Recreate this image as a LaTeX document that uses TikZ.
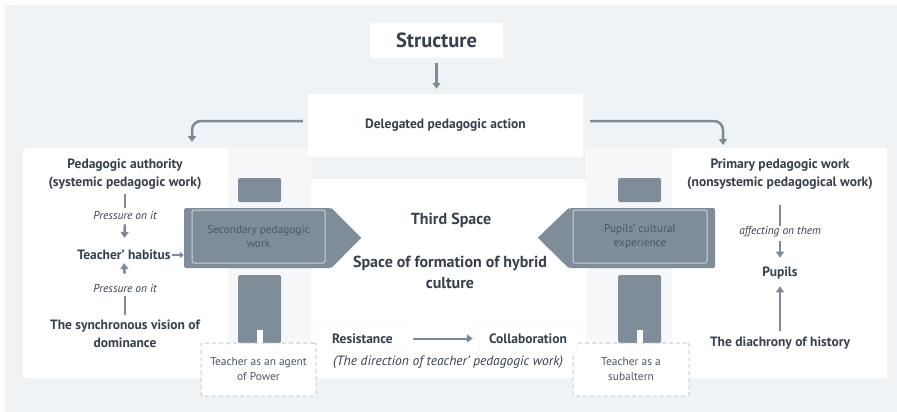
\documentclass[tikz,border=0pt]{standalone}
\usepackage{fontspec}
\setmainfont{PT Sans}
\usetikzlibrary{positioning,arrows.meta}

\definecolor{bgcol}{HTML}{EFF3F6}
\definecolor{colcol}{HTML}{F5F7F9}
\definecolor{inkcol}{HTML}{36414D}
\definecolor{arrowcol}{HTML}{7D8B98}
\definecolor{signcol}{HTML}{7F8D9A}
\definecolor{signtxt}{HTML}{4B5763}
\definecolor{platecol}{HTML}{C9D1D8}
\definecolor{dashcol}{HTML}{C3CCD4}
\definecolor{edgecol}{HTML}{E8ECF0}

\begin{document}
\begin{tikzpicture}[x=1pt, y=-1pt,
% Box style
		panel/.style={rectangle
							, rounded corners=2pt
							, fill=white
							, text=inkcol
							, inner sep=0pt},
		title/.style={text=inkcol
							, font=\fontsize{13.5}{18}\selectfont\bfseries
							, align=center
							, inner sep=0pt},
		note/.style={text=inkcol
							, font=\fontsize{11.4}{14}\selectfont\itshape
							, inner sep=0pt},
% Signpost style
		signbody/.style={rectangle
							, fill=signcol
							, rounded corners=1.5pt
							, inner sep=0pt
							, minimum width=147pt
							, minimum height=60pt},
		plate/.style={rectangle
							, rounded corners=2pt
							, fill=signcol
							, draw=platecol, line width=1pt
							, text=signtxt
							, font=\fontsize{11.3}{13.5}\selectfont
							, align=center
							, inner sep=0pt
							, minimum width=133pt
							, minimum height=53pt},
		pole/.style={fill=signcol
							, rounded corners=1.5pt},
		dashbox/.style={rectangle
							, rounded corners=2pt
							, fill=white
							, draw=dashcol, line width=1pt
							, dash pattern=on 4pt off 3pt
							, text=signtxt
							, font=\fontsize{11.4}{15}\selectfont
							, align=center
							, inner sep=0pt
							, minimum height=53pt},
% Connector style
		link/.style={draw=arrowcol
							, line width=2.5pt
							, -{Triangle[width=8pt,length=6pt]}},
		smalllink/.style={draw=arrowcol
							, line width=1.5pt
							, -{Triangle[width=6pt,length=4pt]}},
		stem/.style={draw=arrowcol
							, line width=2.5pt}
	]
	\useasboundingbox (0,0) rectangle (897,412);
	\fill[white] (0,0) rectangle (897,412);
	\fill[bgcol] (5,5) rectangle (897,412);
%% Columns behind the posts
	\fill[colcol] (228,148) rectangle (311,378);
	\fill[colcol] (586,148) rectangle (672,378);
%% Panels
	\node [panel, minimum width=133pt, minimum height=35pt
		, font=\fontsize{20.5}{24}\selectfont\bfseries] (g0) at (436.5,40.5) {Structure};
	\node [panel, minimum width=275pt, minimum height=63pt
		, font=\fontsize{13.5}{16}\selectfont\bfseries] (g1) at (445.5,125.5) {Delegated pedagogic action};
	\node [panel, minimum width=205pt, minimum height=230pt] (c1) at (125.5,263) {};
	\node [panel, minimum width=215pt, minimum height=230pt] (c2) at (779.5,263) {};
	\node [panel, minimum width=275pt, minimum height=199pt] (c3) at (448.5,278.5) {};
	\coordinate (c1in) at (192,148);
	\coordinate (c2in) at (723,148);
%% Signposts
	\fill[pole] (238,178) rectangle (281,202);
	\fill[pole] (238,275) rectangle (281,343);
	\fill[white] (256.5,330) rectangle (262.5,343);
	\fill[pole] (618,178) rectangle (661,202);
	\fill[pole] (618,275) rectangle (661,343);
	\fill[white] (636.5,330) rectangle (642.5,343);
	\node [dashbox, minimum width=115pt] (k1) at (258.5,369.5) {Teacher as an agent\\of Power};
	\node [dashbox, minimum width=116pt] (k2) at (631,369.5) {Teacher as a\\subaltern};
	\node [signbody] (s1b) at (257.5,238) {};
	\fill[signcol] (s1b.north east) -- ++(30,30) -- (s1b.south east) -- cycle;
	\node [signbody, minimum width=146pt] (s2b) at (642,238) {};
	\fill[signcol] (s2b.north west) -- ++(-31,30) -- (s2b.south west) -- cycle;
	\node [plate] (s1) at (258.5,236.5) {Secondary pedagogic\\work};
	\node [plate, minimum width=134pt] (s2) at (640,236.5) {Pupils' cultural\\experience};
%% Left column
	\node [title] (a1) at (125,174) {Pedagogic authority\\(systemic pedagogic work)};
	\node [note] (p1) at (125,216) {Pressure on it};
	\node [title] (a2) at (124,255) {Teacher' habitus};
	\node [note] (p2) at (125,289) {Pressure on it};
	\node [title] (a3) at (125,334) {The synchronous vision of\\dominance};
%% Right column
	\node [title] (b1) at (780,174) {Primary pedagogic work\\(nonsystemic pedagogical work)};
	\node [note] (p3) at (780,232) {affecting on them};
	\node [title] (b2) at (780,273) {Pupils};
	\node [title] (b3) at (780,343) {The diachrony of history};
%% Third space
	\node [title, font=\fontsize{16}{21}\selectfont\bfseries] (t1) at (451,220) {Third Space};
	\node [title, font=\fontsize{16}{21}\selectfont\bfseries] (t2) at (450,272.5) {Space of formation of hybrid\\culture};
	\node [panel, draw=edgecol, minimum width=91pt, minimum height=27pt
		, font=\fontsize{13.5}{16}\selectfont\bfseries] (r1) at (362.5,338.5) {Resistance};
	\node [panel, draw=edgecol, minimum width=98pt, minimum height=27pt
		, font=\fontsize{13.5}{16}\selectfont\bfseries] (r2) at (528,338.5) {Collaboration};
	\node [note, font=\fontsize{13.5}{16}\selectfont\itshape] (d1) at (448,362) {(The direction of teacher' pedagogic work)};
%% Draw edges
	\draw [link, shorten <=5pt, shorten >=5pt] (g0.south) -- (g0.south |- g1.north);
	\draw [link, rounded corners=9pt, shorten <=5pt, shorten >=6pt] ([yshift=4.5pt]g1.west) -| (c1in);
	\draw [link, rounded corners=9pt, shorten <=7pt, shorten >=3pt] ([yshift=4.5pt]g1.east) -| (c2in);
	\draw [stem, shorten <=5pt, shorten >=4pt] (a1.south) -- (p1.north);
	\draw [link, shorten <=4pt, shorten >=12pt] (p1.south) -- (a2.north);
	\draw [link, shorten <=11pt, shorten >=3pt] (p2.north) -- (a2.south);
	\draw [stem, shorten <=5pt, shorten >=3pt] (a3.north) -- (p2.south);
	\draw [smalllink, shorten <=1pt] (a2.east) -- (a2.east -| s1b.west);
	\draw [stem, shorten <=16pt, shorten >=1pt] (b1.south) -- (p3.north);
	\draw [link, shorten <=4pt, shorten >=9pt] (p3.south) -- (b2.north);
	\draw [link, shorten <=6pt, shorten >=7pt] (b3.north) -- (b2.south);
	\draw [link, line width=2pt, shorten <=5pt, shorten >=6pt] (r1.east) -- (r2.west);
\end{tikzpicture}
\end{document}
